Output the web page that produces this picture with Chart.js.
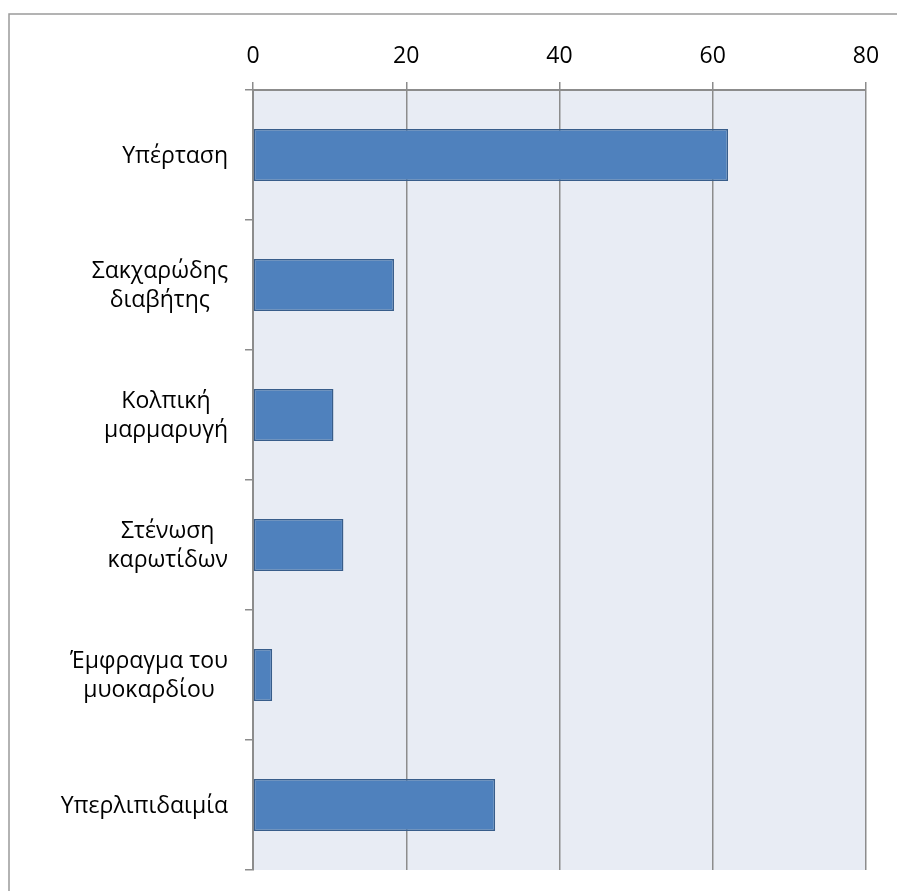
<!DOCTYPE html>
<html>
<head>
<meta charset="utf-8">
<script src="https://cdn.jsdelivr.net/npm/chart.js@4/dist/chart.umd.min.js"></script>
<style>
  html, body { margin: 0; padding: 0; background: #fff; }
  canvas { display: block; }
</style>
</head>
<body>
<canvas id="chart" width="897" height="891"></canvas>
<script>
// ====== Data ======
const categories = [
  ["Υπέρταση"],
  ["Σακχαρώδης", "διαβήτης"],
  ["Κολπική", "μαρμαρυγή"],
  ["Στένωση", "καρωτίδων"],
  ["Έμφραγμα του", "μυοκαρδίου"],
  ["Υπερλιπιδαιμία"]
];
const values = [62, 18.4, 10.5, 11.8, 2.5, 31.6];
const xTicks = [0, 20, 40, 60, 80];

const FONT = "'Open Sans', 'Noto Sans', sans-serif";
const gridGray = "#8c8c8c";

// ====== Plugins ======
// frame + plot background
const backdrop = {
  id: "backdrop",
  beforeDraw(chart) {
    const { ctx, chartArea: a } = chart;
    ctx.save();
    ctx.strokeStyle = "#9a9a9a";
    ctx.lineWidth = 1.5;
    ctx.strokeRect(9, 14, 1000, 1000);
    ctx.fillStyle = "#e8ecf4";
    ctx.fillRect(a.left, a.top, a.right - a.left, a.bottom - a.top);
    ctx.restore();
  }
};

// category labels: lines centred on each other, block right-aligned to the axis
const catLabels = {
  id: "catLabels",
  afterDraw(chart) {
    const { ctx } = chart;
    const y = chart.scales.y;
    const lh = 29, rightEdge = 228;
    ctx.save();
    ctx.font = "23px " + FONT;
    ctx.fillStyle = "#000";
    ctx.textAlign = "center";
    ctx.textBaseline = "middle";
    categories.forEach((lines, i) => {
      const cy = y.getPixelForValue(i);
      const maxW = Math.max(...lines.map(l => ctx.measureText(l).width));
      const cx = rightEdge - maxW / 2;
      lines.forEach((l, j) => {
        ctx.fillText(l, cx, cy - (lines.length - 1) * lh / 2 + j * lh + 1);
      });
    });
    ctx.restore();
  }
};

// ====== Chart Setup ======
const ctx = document.getElementById("chart").getContext("2d");
const chart = new Chart(ctx, {
  type: "bar",
  data: {
    labels: categories.map(c => c.join(" ")),
    datasets: [{
      data: values,
      backgroundColor: "#4f81bd",
      borderColor: "#385d8a",
      borderWidth: 1.5,
      borderSkipped: false,
      categoryPercentage: 1,
      barPercentage: 0.4
    }]
  },
  options: {
    indexAxis: "y",
    responsive: false,
    animation: false,
    layout: { padding: { left: 0, top: 0, right: 31, bottom: 21 } },
    plugins: { legend: { display: false }, tooltip: { enabled: false } },
    scales: {
      x: {
        position: "top",
        min: 0,
        max: 80,
        afterBuildTicks: (s) => { s.ticks = xTicks.map(v => ({ value: v })); },
        afterFit: (s) => { s.height = 90; },
        grid: { color: gridGray, lineWidth: 1.5, tickLength: 8, drawTicks: true },
        border: { display: true, color: gridGray, width: 2 },
        ticks: { color: "#000", font: { family: FONT, size: 23 }, padding: 12 }
      },
      y: {
        afterFit: (s) => { s.width = 253; },
        grid: { drawOnChartArea: false, color: gridGray, lineWidth: 1.5, tickLength: 8, offset: true },
        border: { display: true, color: gridGray, width: 2 },
        ticks: { display: false }
      }
    }
  },
  plugins: [backdrop, catLabels]
});
</script>
</body>
</html>
